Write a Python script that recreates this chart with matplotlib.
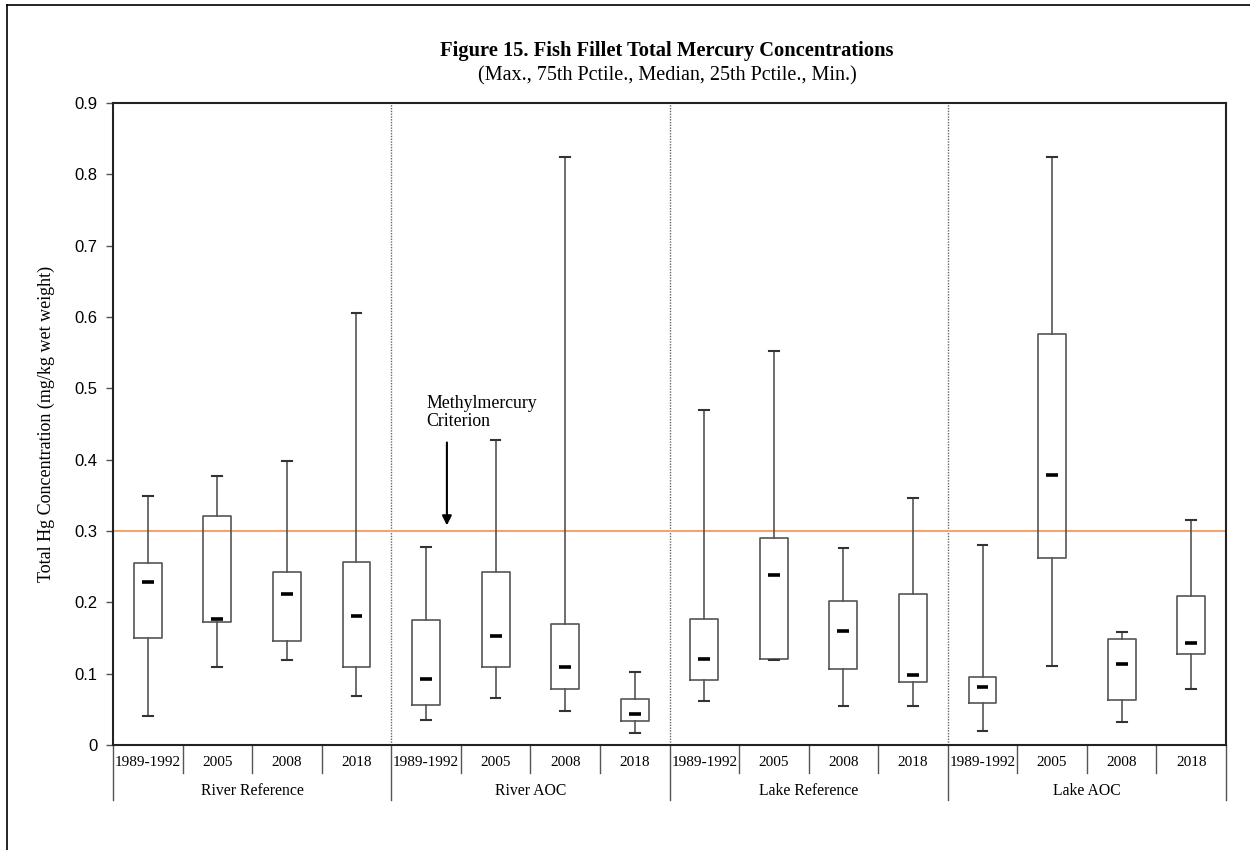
import matplotlib
matplotlib.use("Agg")
import matplotlib.pyplot as plt
from matplotlib.transforms import blended_transform_factory
from matplotlib.lines import Line2D

# Sampling groups and periods
groups = ["River Reference", "River AOC", "Lake Reference", "Lake AOC"]
periods = ["1989-1992", "2005", "2008", "2018"]

# Five-number summaries (mg/kg wet weight), in group/period order
maxv = [0.349, 0.377, 0.398, 0.605,
        0.277, 0.428, 0.825, 0.102,
        0.469, 0.553, 0.276, 0.346,
        0.280, 0.824, 0.159, 0.316]
q3 = [0.255, 0.321, 0.243, 0.257,
      0.175, 0.243, 0.170, 0.065,
      0.177, 0.290, 0.202, 0.212,
      0.096, 0.576, 0.149, 0.209]
med = [0.228, 0.176, 0.212, 0.181,
       0.093, 0.153, 0.110, 0.044,
       0.121, 0.239, 0.160, 0.098,
       0.081, 0.379, 0.113, 0.143]
q1 = [0.150, 0.173, 0.146, 0.110,
      0.056, 0.109, 0.078, 0.033,
      0.091, 0.121, 0.107, 0.088,
      0.059, 0.262, 0.063, 0.127]
minv = [0.040, 0.109, 0.119, 0.068,
        0.035, 0.066, 0.048, 0.017,
        0.061, 0.119, 0.055, 0.054,
        0.020, 0.111, 0.032, 0.079]

criterion = 0.3
yticks = [0, 0.1, 0.2, 0.3, 0.4, 0.5, 0.6, 0.7, 0.8, 0.9]

serif = "Liberation Serif"
sans = "Liberation Sans"

fig = plt.figure(figsize=(12.5, 8.5), dpi=100)
ax = fig.add_axes([113 / 1250, 1 - 745 / 850, (1226 - 113) / 1250, (745 - 103) / 850])

# Figure frame (left and top edges)
fig.add_artist(Line2D([7 / 1250, 7 / 1250], [0, 1 - 5 / 850], transform=fig.transFigure,
                      color="black", lw=1.2))
fig.add_artist(Line2D([7 / 1250, 1], [1 - 5 / 850, 1 - 5 / 850], transform=fig.transFigure,
                      color="black", lw=1.2))

n = len(groups) * len(periods)
stats = []
for i in range(n):
    stats.append(dict(whislo=minv[i], q1=q1[i], med=med[i], q3=q3[i], whishi=maxv[i], fliers=[]))
positions = [i + 0.5 for i in range(n)]

parts = ax.bxp(stats, positions=positions, widths=0.40, showfliers=False, patch_artist=False,
               boxprops=dict(color="#555555", lw=1.2),
               whiskerprops=dict(color="#555555", lw=1.2),
               capprops=dict(color="#333333", lw=1.5),
               medianprops=dict(color="black", lw=2.6),
               capwidths=0.14, manage_ticks=False)

# Medians drawn as short dashes
for i, l in enumerate(parts["medians"]):
    l.set_xdata([positions[i] - 0.085, positions[i] + 0.085])

# Criterion line
ax.axhline(criterion, color="#f4a46e", lw=1.5, zorder=1)

# Group separators
for g in range(1, len(groups)):
    ax.axvline(g * len(periods), color="#666666", lw=1.0, ls=(0, (1, 1)), zorder=0.5)

ax.set_xlim(0, n)
ax.set_ylim(0, 0.9)
ax.set_yticks(yticks)
ax.set_yticklabels(["0" if v == 0 else f"{v:.1f}" for v in yticks], fontfamily=sans, fontsize=12)
ax.tick_params(axis="y", direction="out", length=5, width=1, color="#555555", pad=6)
ax.set_xticks([])
for s in ax.spines.values():
    s.set_linewidth(1.5)
    s.set_color("#222222")

ax.set_ylabel("Total Hg Concentration (mg/kg wet weight)", fontfamily=serif, fontsize=13,
              labelpad=12)
ax.yaxis.set_label_coords(-58 / 1113, 0.50)

# Category table beneath the axis
tr = blended_transform_factory(ax.transData, ax.transAxes)
cat_bot = -28 / 642
grp_bot = -55 / 642
for k in range(n + 1):
    if k % len(periods) == 0:
        ax.plot([k, k], [0, grp_bot], transform=tr, color="#555555", lw=1.0, clip_on=False)
    else:
        ax.plot([k, k], [0, cat_bot], transform=tr, color="#555555", lw=1.0, clip_on=False)
for i in range(n):
    ax.text(positions[i], -18 / 642, periods[i % len(periods)], transform=tr, ha="center",
            va="center", fontfamily=serif, fontsize=11)
for g, name in enumerate(groups):
    ax.text(g * len(periods) + len(periods) / 2, -46 / 642, name, transform=tr, ha="center",
            va="center", fontfamily=serif, fontsize=11.3)

# Criterion annotation
ax.annotate("", xy=(4.8, criterion + 0.004), xytext=(4.8, 0.428), xycoords="data",
            arrowprops=dict(arrowstyle="-|>", color="black", lw=1.5, mutation_scale=14))
ax.text(4.5, 0.441, "Methylmercury\nCriterion", ha="left", va="bottom", fontfamily=serif,
        fontsize=12.8, linespacing=1.1)

# Titles
fig.text(667 / 1250, 1 - 51 / 850, "Figure 15. Fish Fillet Total Mercury Concentrations",
         ha="center", va="center", fontfamily=serif, fontsize=14.8, fontweight="bold")
fig.text(667 / 1250, 1 - 76 / 850, "(Max., 75th Pctile., Median, 25th Pctile., Min.)",
         ha="center", va="center", fontfamily=serif, fontsize=14.5)

fig.savefig("out.png", dpi=100)
